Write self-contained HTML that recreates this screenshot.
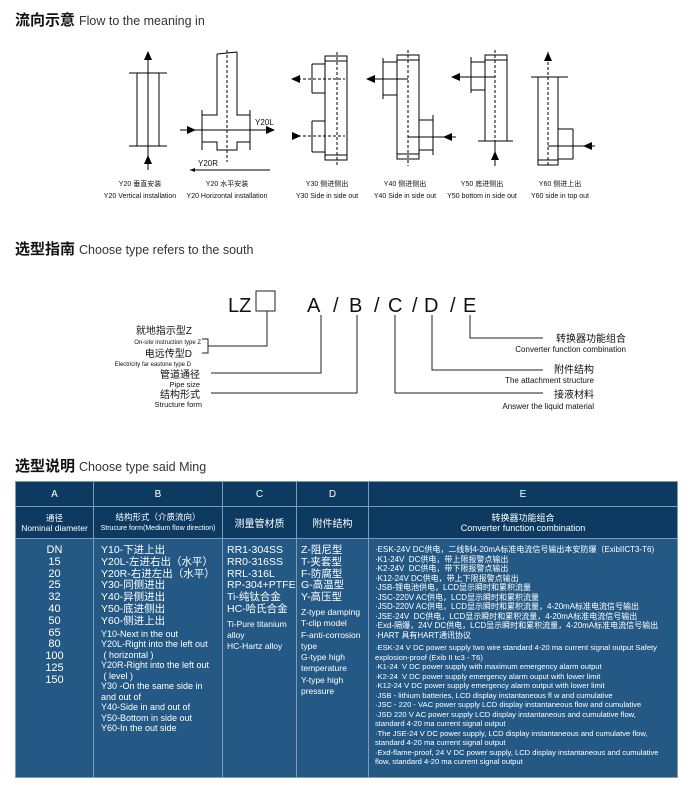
<!DOCTYPE html>
<html><head><meta charset="utf-8"><style>
body{margin:0;width:700px;height:789px;background:#fff;position:relative;font-family:"Liberation Sans","Noto Sans CJK SC",sans-serif;overflow:hidden}
.t{position:absolute;white-space:nowrap}
.h{font-size:15px;font-weight:bold;color:#111}
.h span{font-weight:normal;font-size:12.5px;color:#333;margin-left:4px}
table{position:absolute;left:15px;top:481px;width:663px;border-collapse:collapse;color:#fff;table-layout:fixed}
td{border:1px solid #7f9bb5;vertical-align:top;padding:0}
.hd td{background:#0d3a60;text-align:center;vertical-align:middle}
.bd td{background:#245985}
</style></head><body>
<div class="t h" style="left:15px;top:9px">流向示意<span>Flow to the meaning in</span></div>
<div class="t h" style="left:15px;top:238px">选型指南<span>Choose type refers to the south</span></div>
<div class="t h" style="left:15px;top:455px">选型说明<span>Choose type said Ming</span></div>

<svg style="position:absolute;left:0;top:0" width="700" height="440" font-family="Liberation Sans, Noto Sans CJK SC, sans-serif">
<defs><marker id="ah" markerWidth="8" markerHeight="8" refX="4" refY="4" orient="auto" markerUnits="userSpaceOnUse"><path d="M0,0L8,4L0,8z" fill="#000"/></marker></defs>
<g stroke="#000" stroke-width="1" fill="none">
<!-- Y20 vertical -->
<rect x="137" y="73" width="22" height="73"/>
<line x1="129" y1="73" x2="167" y2="73"/><line x1="129" y1="146" x2="167" y2="146"/>
<line x1="148" y1="52" x2="148" y2="170"/>
<!-- Y20 horizontal -->
<path d="M217,54 L237,52 M217,54 V115 H202 M237,52 V115 H250 M202,110 V150 M250,110 V150 M202,142 H217 V150 H237 V142 H250"/>
<line x1="227" y1="50" x2="227" y2="162" stroke-dasharray="3,2"/>
<line x1="180" y1="130" x2="274" y2="130"/>
<line x1="190" y1="170" x2="270" y2="170"/>
<!-- Y30 -->
<rect x="325" y="56" width="22" height="104"/>
<line x1="325" y1="61" x2="347" y2="61"/><line x1="325" y1="155" x2="347" y2="155"/>
<line x1="312" y1="64" x2="312" y2="93"/><line x1="312" y1="64" x2="325" y2="64"/><line x1="312" y1="93" x2="325" y2="93"/>
<line x1="312" y1="121" x2="312" y2="152"/><line x1="312" y1="121" x2="325" y2="121"/><line x1="312" y1="152" x2="325" y2="152"/>
<line x1="337" y1="52" x2="337" y2="166" stroke-dasharray="3,2"/>
<line x1="293" y1="79" x2="345" y2="79" stroke-dasharray="3,2"/>
<line x1="293" y1="136" x2="345" y2="136" stroke-dasharray="3,2"/>
<!-- Y40 -->
<rect x="397" y="55" width="22" height="104"/>
<line x1="397" y1="60" x2="419" y2="60"/><line x1="397" y1="154" x2="419" y2="154"/>
<line x1="383" y1="58" x2="383" y2="99"/><line x1="383" y1="62" x2="397" y2="62"/><line x1="383" y1="95" x2="397" y2="95"/>
<line x1="433" y1="115" x2="433" y2="155"/><line x1="419" y1="120" x2="433" y2="120"/><line x1="419" y1="150" x2="433" y2="150"/>
<line x1="408" y1="50" x2="408" y2="166" stroke-dasharray="3,2"/>
<line x1="368" y1="79" x2="408" y2="79"/>
<line x1="408" y1="137" x2="456" y2="137"/>
<!-- Y50 -->
<rect x="485" y="55" width="22" height="86"/>
<line x1="485" y1="60" x2="507" y2="60"/>
<line x1="471" y1="57" x2="471" y2="93"/><line x1="471" y1="62" x2="485" y2="62"/><line x1="471" y1="90" x2="485" y2="90"/>
<line x1="478" y1="141" x2="513" y2="141"/>
<line x1="495" y1="50" x2="495" y2="166" stroke-dasharray="3,2"/>
<line x1="453" y1="77" x2="495" y2="77"/>
<line x1="495" y1="141" x2="495" y2="166"/>
<!-- Y60 -->
<rect x="538" y="77" width="20" height="88"/>
<line x1="531" y1="77" x2="568" y2="77"/><line x1="538" y1="160" x2="558" y2="160"/>
<line x1="573" y1="129" x2="573" y2="159"/><line x1="558" y1="129" x2="573" y2="129"/><line x1="558" y1="159" x2="573" y2="159"/>
<line x1="548" y1="52" x2="548" y2="165" stroke-dasharray="3,2"/>
<line x1="548" y1="146" x2="595" y2="146"/>
</g>
<g fill="#000">
<path d="M148,51 l-4,9 h8z"/><path d="M148,155 l-4,9 h8z"/>
<path d="M196,130 l-9,-4 v8z"/><path d="M275,130 l-9,-4 v8z"/>
<path d="M190,170 l5,-2 v4z"/>
<path d="M291,79 l9,-4 v8z"/><path d="M301,136 l-9,-4 v8z"/>
<path d="M366,79 l9,-4 v8z"/><path d="M443,137 l9,-4 v8z"/>
<path d="M451,77 l9,-4 v8z"/><path d="M495,151 l-4,9 h8z"/>
<path d="M548,52 l-4,9 h8z"/><path d="M583,146 l9,-4 v8z"/>
</g>
<g font-size="8" fill="#111">
<text x="255" y="125">Y20L</text><text x="198" y="166">Y20R</text>
</g>
<g font-size="7" fill="#111" text-anchor="middle">
<text x="140" y="186">Y20 垂直安装</text><text x="227" y="186">Y20 水平安装</text><text x="327" y="186">Y30 侧进侧出</text><text x="405" y="186">Y40 侧进侧出</text><text x="482" y="186">Y50 底进侧出</text><text x="560" y="186">Y60 侧进上出</text>
<text x="140" y="198">Y20 Vertical installation</text><text x="227" y="198">Y20 Horizontal installation</text><text x="327" y="198">Y30 Side in side out</text><text x="405" y="198">Y40 Side in side out</text><text x="482" y="198">Y50 bottom in side out</text><text x="560" y="198">Y60 side in top out</text>
</g>
<!-- selection guide -->
<g font-size="20" fill="#111">
<text x="228" y="312">LZ</text>
<text x="307" y="312">A</text><text x="333" y="312">/</text><text x="349" y="312">B</text><text x="374" y="312">/</text><text x="388" y="312">C</text><text x="412" y="312">/</text><text x="424" y="312">D</text><text x="450" y="312">/</text><text x="463" y="312">E</text>
</g>
<g stroke="#222" fill="none" stroke-width="1">
<rect x="256" y="291" width="19" height="20"/>
<path d="M267,311 V346 H208 M202,339 H208 V353 H202"/>
<path d="M321,315 V373 H211"/>
<path d="M357,315 V393 H211"/>
<path d="M395,315 V393 H543"/>
<path d="M432,315 V370 H543"/>
<path d="M470,315 V338 H543"/>
</g>
<g fill="#111" text-anchor="end">
<text x="192" y="334" font-size="10">就地指示型Z</text>
<text x="201" y="344" font-size="6">On-site instruction type Z</text>
<text x="192" y="357" font-size="10">电远传型D</text>
<text x="191" y="366" font-size="6">Electricity far eastone type D</text>
<text x="200" y="378" font-size="10">管道通径</text>
<text x="200" y="387" font-size="7.5">Pipe size</text>
<text x="200" y="398" font-size="10">结构形式</text>
<text x="202" y="407" font-size="7.5">Structure form</text>
<text x="626" y="342" font-size="10">转换器功能组合</text>
<text x="626" y="352" font-size="8">Converter function combination</text>
<text x="594" y="373" font-size="10">附件结构</text>
<text x="594" y="383" font-size="8">The attachment structure</text>
<text x="594" y="398" font-size="10">接液材料</text>
<text x="594" y="409" font-size="8">Answer the liquid material</text>
</g>
</svg>

<table>
<colgroup><col style="width:78px"><col style="width:129px"><col style="width:74px"><col style="width:72px"><col></colgroup>
<tr class="hd" style="height:25px;font-size:10px"><td>A</td><td>B</td><td>C</td><td>D</td><td>E</td></tr>
<tr class="hd" style="height:32px"><td style="font-size:8.5px;line-height:10px">通径<br>Nominal diameter</td><td style="font-size:8.5px;line-height:10px">结构形式（介质流向）<br><span style="font-size:7px">Strucure form(Medium flow direction)</span></td><td style="font-size:10px">测量管材质</td><td style="font-size:10px">附件结构</td><td style="font-size:9px;line-height:10px">转换器功能组合<br>Converter function combination</td></tr>
<tr class="bd" style="height:239px">
<td style="text-align:center;font-size:11px;line-height:11.8px;padding-top:6px">DN<br>15<br>20<br>25<br>32<br>40<br>50<br>65<br>80<br>100<br>125<br>150</td>
<td style="padding:6px 0 0 7px;font-size:10.5px;line-height:11.8px">Y10-下进上出<br>Y20L-左进右出（水平）<br>Y20R-右进左出（水平）<br>Y30-同侧进出<br>Y40-异侧进出<br>Y50-底进侧出<br>Y60-侧进上出<div style="font-size:9px;line-height:10.5px;padding-top:1px">Y10-Next in the out<br>Y20L-Right into the left out<br>&nbsp;( horizontal )<br>Y20R-Right into the left out<br>&nbsp;( level )<br>Y30 -On the same side in<br>and out of<br>Y40-Side in and out of<br>Y50-Bottom in side out<br>Y60-In the out side</div></td>
<td style="padding:6px 0 0 4px;font-size:10.5px;line-height:11.8px">RR1-304SS<br>RR0-316SS<br>RRL-316L<br>RP-304+PTFE<br>Ti-纯钛合金<br>HC-哈氏合金<div style="font-size:8.5px;line-height:11px;padding-top:3px">Ti-Pure titanium<br>alloy<br>HC-Hartz alloy</div></td>
<td style="padding:6px 0 0 4px;font-size:10.5px;line-height:11.8px">Z-阻尼型<br>T-夹套型<br>F-防腐型<br>G-高温型<br>Y-高压型<div style="font-size:8.5px;line-height:11.3px;padding-top:3px">Z-type damping<br>T-clip model<br>F-anti-corrosion<br>type<br>G-type high<br>temperature<br>Y-type high<br>pressure</div></td>
<td style="padding:6px 0 0 6px;font-size:8px;line-height:9.5px">·ESK-24V DC供电，二线制4-20mA标准电流信号输出本安防爆（ExibIICT3-T6)<br>·K1-24V &nbsp;DC供电，带上限报警点输出<br>·K2-24V &nbsp;DC供电，带下限报警点输出<br>·K12-24V DC供电，带上下限报警点输出<br>·JSB-锂电池供电，LCD显示瞬时和累积流量<br>·JSC-220V AC供电，LCD显示瞬时和累积流量<br>·JSD-220V AC供电，LCD显示瞬时和累积流量，4-20mA标准电流信号输出<br>·JSE-24V &nbsp;DC供电，LCD显示瞬时和累积流量，4-20mA标准电流信号输出<br>·Exd-隔爆，24V DC供电，LCD显示瞬时和累积流量，4-20mA标准电流信号输出<br>·HART 具有HART通讯协议<div style="font-size:7.6px;line-height:9.5px;padding-top:3px">·ESK-24 V DC power supply two wire standard 4-20 ma current signal output Safety<br>explosion-proof (Exib II tc3 - T6)<br>·K1-24 &nbsp;V DC power supply with maximum emergency alarm output<br>·K2-24 &nbsp;V DC power supply emergency alarm ouput with lower limit<br>·K12-24 V DC power supply emergency alarm output with lower limit<br>·JSB - lithium batteries, LCD display instantaneous fl w and cumulative<br>·JSC - 220 - VAC power supply LCD display instantaneous flow and cumulative<br>·JSD 220 V AC power supply LCD display instantaneous and cumulative flow,<br>standard 4-20 ma current signal output<br>·The JSE-24 V DC power supply, LCD display instantaneous and cumulatve flow,<br>standard 4-20 ma current signal output<br>·Exd-flame-proof, 24 V DC power supply, LCD display instantaneous and cumulative<br>flow, standard 4-20 ma current signal output</div></td>
</tr>
</table>
</body></html>
